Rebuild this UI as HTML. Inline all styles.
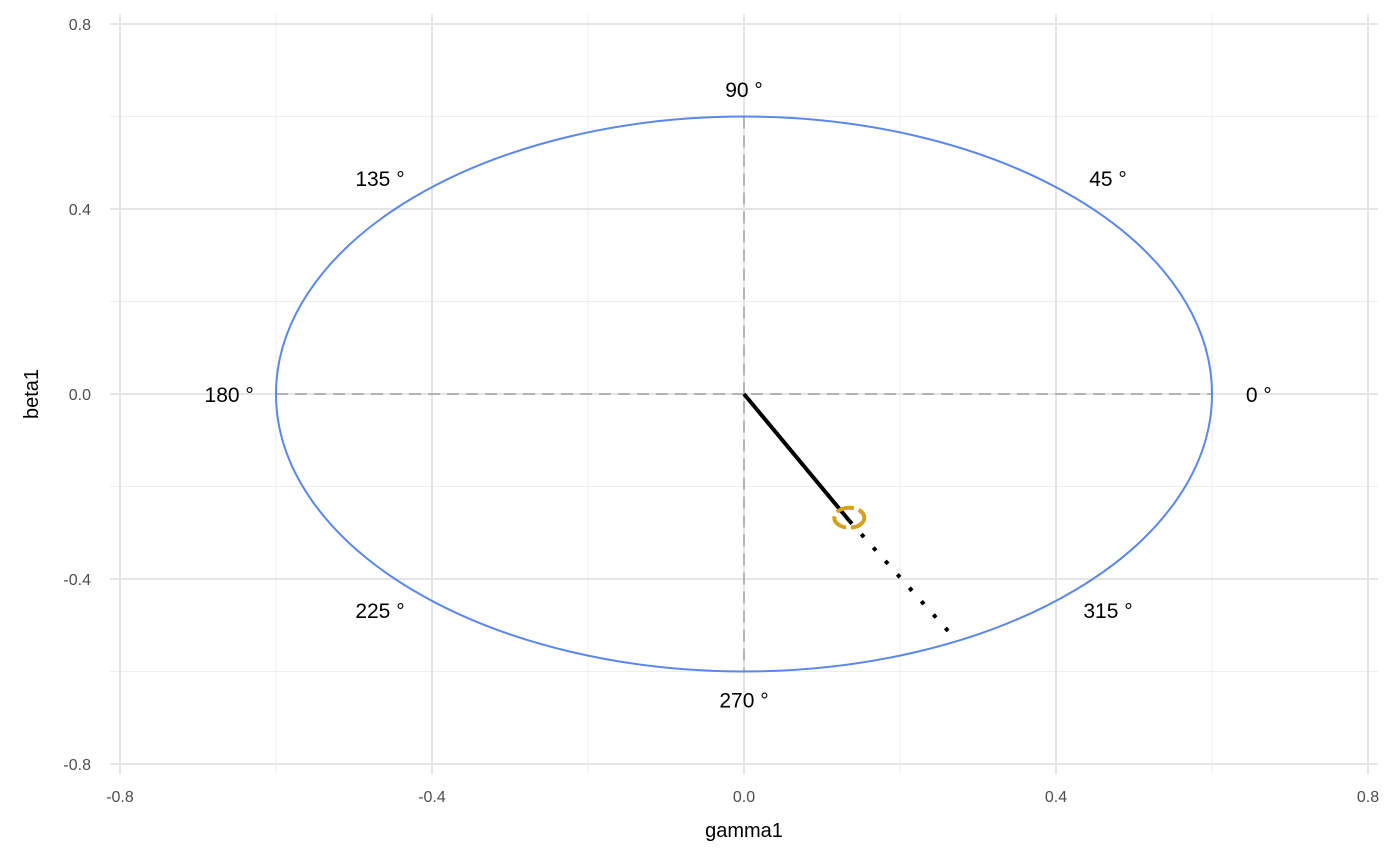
<!DOCTYPE html>
<html><head><meta charset="utf-8"><style>
html,body{margin:0;padding:0;background:#fff;}
svg{display:block;font-family:"Liberation Sans",Arial,sans-serif;}
</style></head><body>
<svg id="chart" width="1400" height="866" viewBox="0 0 1400 866">
<g id="grid"></g>
<g id="axes"></g>
<g id="marks"></g>
<text x="744" y="837" text-anchor="middle" font-size="20" fill="#000">gamma1</text>
<text x="0" y="0" transform="translate(38,394) rotate(-90)" text-anchor="middle" font-size="20" fill="#000">beta1</text>
</svg>
<script>
const xTicks=[-0.8,-0.4,0.0,0.4,0.8];
const yTicks=[-0.8,-0.4,0.0,0.4,0.8];
const minorTicks=[-0.6,-0.2,0.2,0.6];
const tickLabels=["-0.8","-0.4","0.0","0.4","0.8"];
const ellipseRadius=[0.6];
const angleLabels=[0,45,90,135,180,225,270,315];
const pointGamma=[0.135];
const pointBeta=[-0.274];
const endGamma=[0.272];
const endBeta=[-0.532];
const labelRadius=0.66;

const sx=v=>744+v*780;
const sy=v=>394-v*462.5;
const NS="http://www.w3.org/2000/svg";
function mk(tag,parent,attrs){const e=document.createElementNS(NS,tag);for(const k in attrs)e.setAttribute(k,attrs[k]);parent.appendChild(e);return e;}
const grid=document.getElementById('grid'),axes=document.getElementById('axes'),marks=document.getElementById('marks');
minorTicks.forEach(v=>{
 let l=mk('line',grid,{x1:sx(v),x2:sx(v),y1:14,y2:774,stroke:'#ededed','stroke-width':1});
 
 
 l=mk('line',grid,{x1:110,x2:1378,y1:sy(v),y2:sy(v),stroke:'#ededed','stroke-width':1});
 
 
});
xTicks.forEach((v,i)=>{
 let l=mk('line',grid,{x1:sx(v),x2:sx(v),y1:14,y2:774,stroke:'#e5e5e5','stroke-width':2});
 
 
 let t=mk('text',axes,{x:sx(v),y:802,'text-anchor':'middle','font-size':16,fill:'#4d4d4d'});t.textContent=tickLabels[i];
 
 
});
yTicks.forEach((v,i)=>{
 let l=mk('line',grid,{x1:110,x2:1378,y1:sy(v),y2:sy(v),stroke:'#e5e5e5','stroke-width':2});
 
 
 let t=mk('text',axes,{x:91,y:sy(v)+6,'text-anchor':'end','font-size':16,fill:'#4d4d4d'});t.textContent=tickLabels[i];
 
 
});
const r=ellipseRadius[0];
let d=mk('line',marks,{x1:sx(-r),x2:sx(r),y1:sy(0),y2:sy(0),stroke:'#b3b3b3','stroke-width':2,'stroke-dasharray':'12,7'});


d=mk('line',marks,{x1:sx(0),x2:sx(0),y1:sy(r),y2:sy(-r),stroke:'#b3b3b3','stroke-width':2,'stroke-dasharray':'12,7'});


let el=mk('ellipse',marks,{cx:sx(0),cy:sy(0),rx:sx(r)-sx(0),ry:sy(0)-sy(r),fill:'none',stroke:'#5b87e8','stroke-width':2});


angleLabels.forEach(a=>{
 const rad=a*Math.PI/180;
 let t=mk('text',marks,{x:sx(labelRadius*Math.cos(rad)),y:sy(labelRadius*Math.sin(rad))+8,'text-anchor':'middle','font-size':21,fill:'#000'});
 t.textContent=a+' °';
 
 
});
let dl=mk('line',marks,{x1:sx(pointGamma[0]),y1:sy(pointBeta[0]),x2:sx(endGamma[0]),y2:sy(endBeta[0]),stroke:'#000','stroke-width':4,'stroke-dasharray':'4,14'});


let sl=mk('line',marks,{x1:sx(0),y1:sy(0),x2:sx(pointGamma[0]),y2:sy(pointBeta[0]),stroke:'#000','stroke-width':4});


let c=mk('ellipse',marks,{cx:sx(pointGamma[0]),cy:sy(pointBeta[0])-3,rx:15,ry:10,fill:'none',stroke:'#d4a020','stroke-width':4,'stroke-dasharray':'18,5'});


</script>
</body></html>
